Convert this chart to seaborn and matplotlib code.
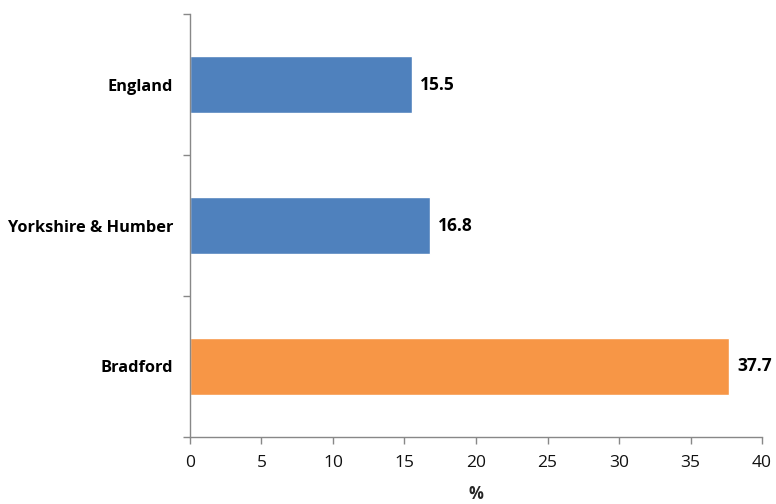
import matplotlib
matplotlib.use('Agg')
import matplotlib.pyplot as plt
import seaborn as sns
import pandas as pd

# Chart data
areas = ['England', 'Yorkshire & Humber', 'Bradford']
values = [15.5, 16.8, 37.7]
colours = ['#4F81BD', '#4F81BD', '#F79646']

df = pd.DataFrame({'area': areas, 'value': values})

sns.set_style('white')
plt.rcParams['font.family'] = ['Open Sans', 'DejaVu Sans']

fig = plt.figure(figsize=(7.76, 5.04), dpi=100)
ax = fig.add_axes([0.2448, 0.133, 0.7372, 0.839])

sns.barplot(data=df, x='value', y='area', hue='area', palette=colours,
            orient='h', width=0.4, legend=False, ax=ax, saturation=1)

for i, v in enumerate(values):
    ax.text(v + 0.55, i, f'{v:.1f}', va='center', ha='left',
            fontsize=12.5, fontweight='bold', color='black')

ax.set_xlim(0, 40)
ax.set_ylim(2.5, -0.5)
ax.set_xticks(range(0, 41, 5))
ax.tick_params(axis='x', labelsize=12.5, colors='#111111', length=5, width=1,
               color='#888888', direction='out', bottom=True, pad=8)
ax.set_yticks([-0.5, 0.5, 1.5, 2.5], minor=False)
ax.set_yticklabels([])
ax.set_yticks([0, 1, 2], minor=True)
ax.set_yticklabels(areas, minor=True)
ax.tick_params(axis='y', which='major', length=5, width=1, color='#888888',
               direction='out', left=True)
ax.tick_params(axis='y', which='minor', length=0, labelsize=11.8, pad=12,
               colors='black')
for lab in ax.get_yticklabels(minor=True):
    lab.set_fontweight('bold')

ax.set_ylabel('')
ax.set_xlabel('%', fontsize=12, fontweight='bold', labelpad=10)

for side in ['top', 'right']:
    ax.spines[side].set_visible(False)
for side in ['left', 'bottom']:
    ax.spines[side].set_color('#888888')
    ax.spines[side].set_linewidth(1)

fig.savefig('out.png', dpi=100)
